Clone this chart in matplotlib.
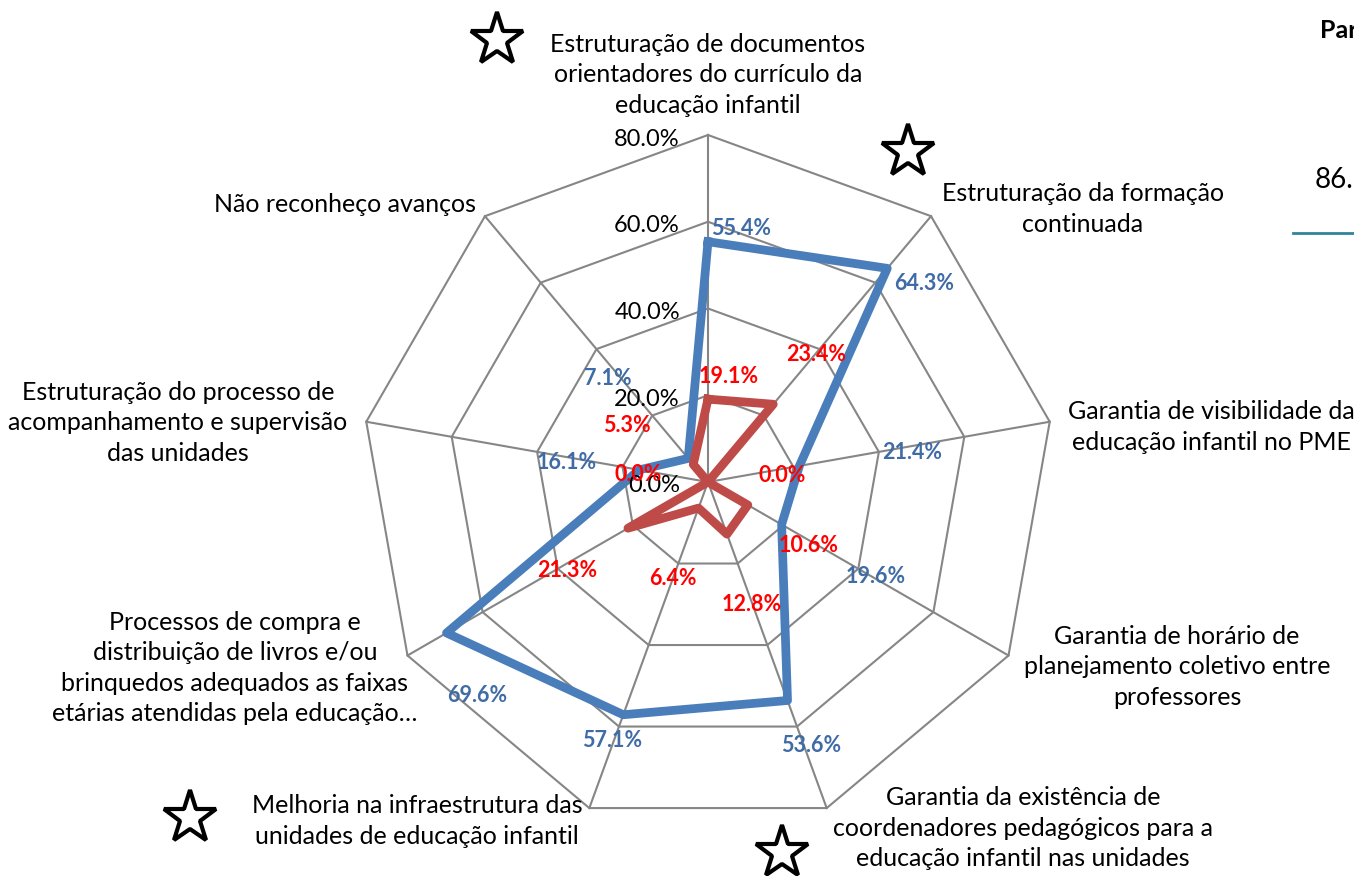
import numpy as np
import matplotlib
matplotlib.use("Agg")
import matplotlib.pyplot as plt

plt.rcParams['font.family'] = ['Lato', 'DejaVu Sans']

categories = [
    "Estruturação de documentos\norientadores do currículo da\neducação infantil",
    "Estruturação da formação\ncontinuada",
    "Garantia de visibilidade da\neducação infantil no PME",
    "Garantia de horário de\nplanejamento coletivo entre\nprofessores",
    "Garantia da existência de\ncoordenadores pedagógicos para a\neducação infantil nas unidades",
    "Melhoria na infraestrutura das\nunidades de educação infantil",
    "Processos de compra e\ndistribuição de livros e/ou\nbrinquedos adequados as faixas\netárias atendidas pela educação…",
    "Estruturação do processo de\nacompanhamento e supervisão\ndas unidades",
    "Não reconheço avanços",
]
blue_values = [55.4, 64.3, 21.4, 19.6, 53.6, 57.1, 69.6, 16.1, 7.1]
red_values = [19.1, 23.4, 0.0, 10.6, 12.8, 6.4, 21.3, 0.0, 5.3]
ring_values = [0, 20, 40, 60, 80]
ring_labels = ["0.0%", "20.0%", "40.0%", "60.0%", "80.0%"]

# layout (pixels)
W, H = 1354, 876
cx, cy = 708, 482
scale = 347 / 80.0

def px(x, y):
    return (x - cx) / scale, (cy - y) / scale

fig = plt.figure(figsize=(W / 100, H / 100), dpi=100)
ax = fig.add_axes([0, 0, 1, 1])
ax.set_xlim(-cx / scale, (W - cx) / scale)
ax.set_ylim(-(H - cy) / scale, cy / scale)
ax.axis('off')

n = len(categories)
ang = np.deg2rad(90 - 40 * np.arange(n))

# grid
for rv in ring_values[1:]:
    xs = rv * np.cos(np.append(ang, ang[0]))
    ys = rv * np.sin(np.append(ang, ang[0]))
    ax.plot(xs, ys, color='#868686', lw=1.5, zorder=1)
for a in ang:
    ax.plot([0, 80 * np.cos(a)], [0, 80 * np.sin(a)], color='#868686', lw=1.5, zorder=1)

for rv, lab in zip(ring_values, ring_labels):
    ax.annotate(lab, (0, rv), xytext=(-28, -4), textcoords='offset pixels',
                ha='right', va='center', fontsize=17, color='black', zorder=5)

# series
def series(vals, color, z):
    v = np.array(vals)
    xs = v * np.cos(ang)
    ys = v * np.sin(ang)
    ax.plot(np.append(xs, xs[0]), np.append(ys, ys[0]), color=color, lw=6.3,
            solid_joinstyle='round', zorder=z)
    return xs, ys

bx, by = series(blue_values, '#4a7ebb', 3)
rx, ry = series(red_values, '#be4b48', 4)

blue_off = [(33, 13), (37, -15), (113, 13), (94, -52), (24, -45),
            (-11, -26), (31, -63), (-73, 7), (-80, 80)]
red_off = [(21, 23), (43, 50), (74, 6), (61, -41), (25, -70),
           (-26, -70), (-61, -42), (-70, 7), (-66, 39)]

for x, y, v, o in zip(bx, by, blue_values, blue_off):
    ax.annotate(f"{v:.1f}%", (x, y), xytext=o, textcoords='offset pixels',
                ha='center', va='center', fontsize=15.5, fontweight='bold',
                color='#3f6ba6', zorder=6)
for x, y, v, o in zip(rx, ry, red_values, red_off):
    ax.annotate(f"{v:.1f}%", (x, y), xytext=o, textcoords='offset pixels',
                ha='center', va='center', fontsize=15.5, fontweight='bold',
                color='#ff0000', zorder=7)

# category labels
cat_pos = [(708, 75), (1083, 209), (1211, 427), (1177, 667), (1023, 828),
           (417, 821), (235, 668), (178, 423), (345, 205)]
for lab, (x, y) in zip(categories, cat_pos):
    ax.text(*px(x, y), lab, ha='center', va='center', fontsize=18,
            linespacing=1.38, color='black')

# stars
for x, y in [(497, 40), (908, 152), (190, 818), (782, 853)]:
    ax.plot(*px(x, y), marker='*', markersize=40, markerfacecolor='white',
            markeredgecolor='black', markeredgewidth=3, zorder=8)

# cut-off legend at the right edge
ax.text(*px(1320, 30), "Par", ha='left', va='center', fontsize=18,
        fontweight='bold', color='black')
ax.text(*px(1315, 180), "86.", ha='left', va='center', fontsize=20,
        color='black')
x0, y0 = px(1293, 233)
x1, _ = px(1360, 233)
ax.plot([x0, x1], [y0, y0], color='#31849b', lw=2)

fig.savefig("out.png", dpi=100)
